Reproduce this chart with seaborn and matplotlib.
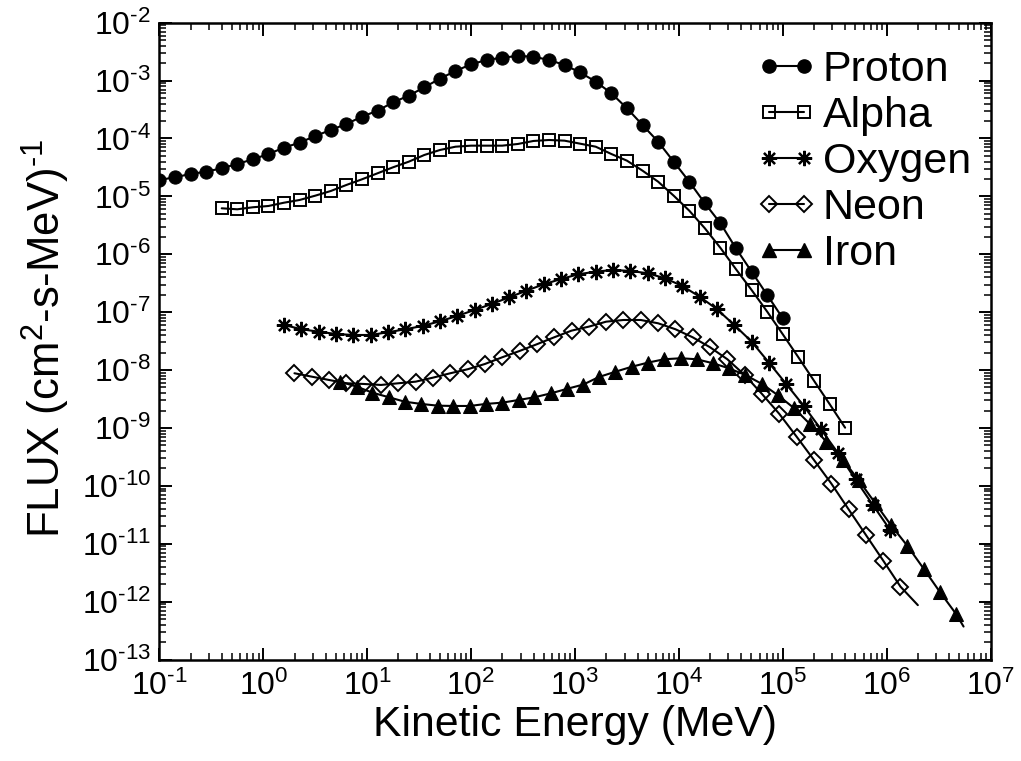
import numpy as np
import pandas as pd
import matplotlib
matplotlib.use("Agg")
import matplotlib.pyplot as plt
from matplotlib.lines import Line2D
from matplotlib.ticker import LogLocator, NullFormatter, FuncFormatter
import seaborn as sns

# Differential flux spectra: log10 kinetic energy (MeV) and log10 flux (cm^2-s-MeV)^-1
proton_log_e = [-1.00, -0.85, -0.70, -0.55, -0.40, -0.25, -0.10, 0.05, 0.20, 0.35,
                0.50, 0.65, 0.80, 0.95, 1.10, 1.25, 1.40, 1.55, 1.70, 1.85,
                2.00, 2.15, 2.30, 2.45, 2.60, 2.75, 2.90, 3.05, 3.20, 3.35,
                3.50, 3.65, 3.80, 3.95, 4.10, 4.25, 4.40, 4.55, 4.70, 4.85, 5.00]
proton_log_f = [-4.717, -4.670, -4.613, -4.573, -4.515, -4.440, -4.360, -4.268, -4.158, -4.072,
                -3.957, -3.853, -3.750, -3.623, -3.520, -3.375, -3.261, -3.116, -2.967, -2.834,
                -2.719, -2.644, -2.604, -2.575, -2.587, -2.644, -2.731, -2.860, -3.019, -3.219,
                -3.478, -3.767, -4.055, -4.401, -4.746, -5.119, -5.465, -5.900, -6.300, -6.703, -7.106]

alpha_log_e = [-0.40, -0.25, -0.10, 0.05, 0.20, 0.35, 0.50, 0.65, 0.80, 0.95,
               1.10, 1.25, 1.40, 1.55, 1.70, 1.85, 2.00, 2.15, 2.30, 2.45,
               2.60, 2.75, 2.90, 3.05, 3.20, 3.35, 3.50, 3.65, 3.80, 3.95,
               4.10, 4.25, 4.40, 4.55, 4.70, 4.85, 5.00, 5.15, 5.30, 5.45, 5.60]
alpha_log_f = [-5.206, -5.223, -5.188, -5.166, -5.109, -5.062, -4.988, -4.907, -4.803, -4.705,
               -4.601, -4.497, -4.401, -4.285, -4.199, -4.142, -4.124, -4.124, -4.124, -4.095,
               -4.043, -4.026, -4.038, -4.090, -4.142, -4.268, -4.383, -4.556, -4.746, -4.988,
               -5.247, -5.551, -5.890, -6.259, -6.617, -6.991, -7.382, -7.779, -8.183, -8.585, -8.995]

oxygen_log_e = [0.200, 0.367, 0.533, 0.700, 0.867, 1.033, 1.200, 1.367, 1.533, 1.700,
                1.867, 2.033, 2.200, 2.367, 2.533, 2.700, 2.867, 3.033, 3.200, 3.367,
                3.533, 3.700, 3.867, 4.033, 4.200, 4.367, 4.533, 4.700, 4.867, 5.033,
                5.200, 5.367, 5.533, 5.700, 5.867, 6.033]
oxygen_log_f = [-7.221, -7.295, -7.337, -7.377, -7.394, -7.394, -7.347, -7.295, -7.238, -7.157,
                -7.065, -6.962, -6.858, -6.743, -6.629, -6.518, -6.427, -6.345, -6.300, -6.271,
                -6.288, -6.328, -6.415, -6.548, -6.732, -6.950, -7.221, -7.509, -7.872, -8.240,
                -8.615, -9.022, -9.437, -9.890, -10.330, -10.760]

# the last neon and iron entries close the curve without a marker
neon_log_e = [0.300, 0.467, 0.633, 0.800, 0.967, 1.133, 1.300, 1.467, 1.633, 1.800,
              1.967, 2.133, 2.300, 2.467, 2.633, 2.800, 2.967, 3.133, 3.300, 3.467,
              3.633, 3.800, 3.967, 4.133, 4.300, 4.467, 4.633, 4.800, 4.967, 5.133,
              5.300, 5.467, 5.633, 5.800, 5.967, 6.133, 6.300]
neon_log_f = [-8.055, -8.114, -8.171, -8.228, -8.240, -8.257, -8.228, -8.200, -8.131, -8.055,
              -7.986, -7.895, -7.779, -7.670, -7.554, -7.434, -7.319, -7.250, -7.164, -7.135,
              -7.135, -7.192, -7.295, -7.434, -7.606, -7.814, -8.085, -8.413, -8.758, -9.150,
              -9.553, -9.960, -10.404, -10.848, -11.292, -11.741, -12.060]

iron_log_e = [0.74, 0.90, 1.05, 1.21, 1.36, 1.52, 1.68, 1.83, 1.99, 2.14,
              2.30, 2.46, 2.61, 2.77, 2.92, 3.08, 3.23, 3.39, 3.55, 3.70,
              3.86, 4.02, 4.17, 4.33, 4.48, 4.64, 4.80, 4.95, 5.11, 5.26,
              5.42, 5.58, 5.73, 5.89, 6.04, 6.20, 6.36, 6.51, 6.67, 6.74]
iron_log_f = [-8.200, -8.287, -8.390, -8.470, -8.546, -8.585, -8.615, -8.620, -8.620, -8.585,
              -8.563, -8.516, -8.470, -8.401, -8.326, -8.250, -8.120, -8.028, -7.941, -7.872,
              -7.813, -7.796, -7.813, -7.883, -7.969, -8.085, -8.240, -8.430, -8.660, -8.930,
              -9.237, -9.553, -9.900, -10.300, -10.675, -11.038, -11.441, -11.827, -12.218, -12.430]

species = ["Proton", "Alpha", "Oxygen", "Neon", "Iron"]
x_tick_exps = list(range(-1, 8))
y_tick_exps = list(range(-13, -1))

sns.set_theme(style="ticks")
plt.rcParams["font.family"] = ["Liberation Sans", "DejaVu Sans"]
plt.rcParams["mathtext.fontset"] = "custom"
plt.rcParams["mathtext.rm"] = "Liberation Sans"
plt.rcParams["mathtext.it"] = "Liberation Sans:italic"
plt.rcParams["mathtext.bf"] = "Liberation Sans:bold"
plt.rcParams["axes.unicode_minus"] = False
for key in ("text.color", "axes.labelcolor", "xtick.color", "ytick.color", "axes.edgecolor"):
    plt.rcParams[key] = "black"


def power_label(value, pos):
    # decade label with a plain hyphen in the exponent
    exp = int(round(np.log10(value)))
    sign = r"\text{-}" if exp < 0 else ""
    return r"$\mathdefault{10^{%s%d}}$" % (sign, abs(exp))


styles = {
    "Proton": dict(marker="o", markersize=9.5, markerfacecolor="black", markeredgecolor="black"),
    "Alpha": dict(marker="s", markersize=8.5, markerfacecolor="none", markeredgecolor="black", markeredgewidth=1.4),
    "Oxygen": dict(marker=(8, 2, 0), markersize=11, markerfacecolor="none", markeredgecolor="black", markeredgewidth=1.6),
    "Neon": dict(marker="D", markersize=7.8, markerfacecolor="none", markeredgecolor="black", markeredgewidth=1.4),
    "Iron": dict(marker="^", markersize=10, markerfacecolor="black", markeredgecolor="black"),
}

series = {
    "Proton": (proton_log_e, proton_log_f, False),
    "Alpha": (alpha_log_e, alpha_log_f, False),
    "Oxygen": (oxygen_log_e, oxygen_log_f, False),
    "Neon": (neon_log_e, neon_log_f, True),
    "Iron": (iron_log_e, iron_log_f, True),
}

fig, ax = plt.subplots(figsize=(10.21, 7.61), dpi=100)
fig.subplots_adjust(left=0.1561, right=0.9702, top=0.9702, bottom=0.1333)
ax.set_xscale("log")
ax.set_yscale("log")

for name in species:
    log_e, log_f, open_tail = series[name]
    df = pd.DataFrame({"energy": np.power(10.0, log_e), "flux": np.power(10.0, log_f)})
    n = len(df)
    every = list(range(n - 1)) if open_tail else None
    sns.lineplot(data=df, x="energy", y="flux", ax=ax, color="black", linewidth=1.5,
                 estimator=None, sort=False, legend=False, markevery=every, **styles[name])

ax.set_xlim(10.0 ** x_tick_exps[0], 10.0 ** x_tick_exps[-1])
ax.set_ylim(10.0 ** y_tick_exps[0], 10.0 ** y_tick_exps[-1])

ax.xaxis.set_major_locator(LogLocator(base=10, numticks=30))
ax.yaxis.set_major_locator(LogLocator(base=10, numticks=30))
ax.xaxis.set_minor_locator(LogLocator(base=10, subs=np.arange(2, 10), numticks=300))
ax.yaxis.set_minor_locator(LogLocator(base=10, subs=np.arange(2, 10), numticks=300))
ax.xaxis.set_major_formatter(FuncFormatter(power_label))
ax.yaxis.set_major_formatter(FuncFormatter(power_label))
ax.xaxis.set_minor_formatter(NullFormatter())
ax.yaxis.set_minor_formatter(NullFormatter())

ax.tick_params(which="both", direction="in", top=True, right=True, colors="black")
ax.tick_params(which="major", length=9, width=1.4, labelsize=23)
ax.tick_params(which="minor", length=4.8, width=1.1)
ax.tick_params(axis="x", which="major", pad=8)
ax.tick_params(axis="y", which="major", pad=6)
for sp in ax.spines.values():
    sp.set_linewidth(1.8)
    sp.set_color("black")

ax.set_xlabel("Kinetic Energy (MeV)", fontsize=30.8, labelpad=2, color="black")
ax.set_ylabel(r"FLUX (cm$^{2}$-s-MeV)$^{\text{-}1}$", fontsize=31.5, color="black")
ax.yaxis.set_label_coords(-0.105, 0.505)

handles = [Line2D([], [], color="black", linewidth=1.5, label=name, **styles[name]) for name in species]
leg = ax.legend(handles=handles, numpoints=2, frameon=False, fontsize=31,
                handlelength=1.4, handletextpad=0.15, labelspacing=0.14,
                loc="upper left", bbox_to_anchor=(0.718, 0.957),
                borderaxespad=0, borderpad=0)
for txt in leg.get_texts():
    txt.set_color("black")

fig.savefig("out.png", dpi=100)
